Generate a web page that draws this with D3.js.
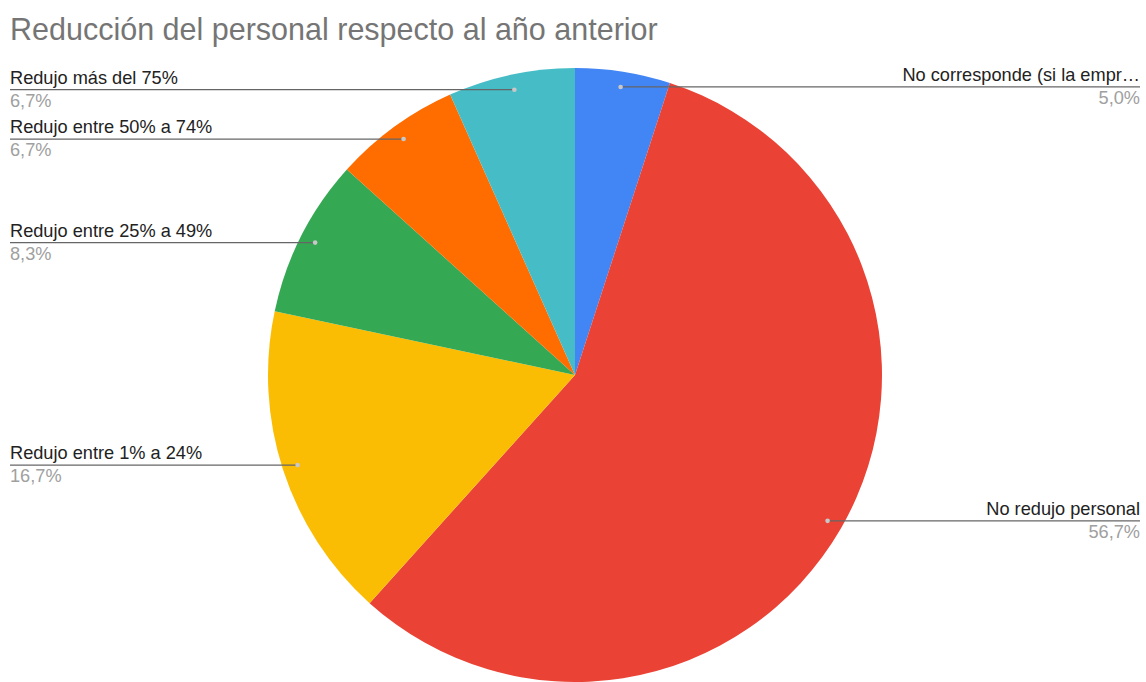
<!DOCTYPE html>
<html>
<head>
<meta charset="utf-8">
<script src="https://cdn.jsdelivr.net/npm/d3@7"></script>
<style>
  html, body { margin: 0; padding: 0; background: #fff; }
  svg { display: block; font-family: "Liberation Sans", Arial, sans-serif; }
</style>
</head>
<body>
<svg id="chart" width="1146" height="682"></svg>
<script>
// Survey answers (number of companies) for each category, clockwise from 12 o'clock
const categories = [
  "No corresponde (si la empr…",
  "No redujo personal",
  "Redujo entre 1% a 24%",
  "Redujo entre 25% a 49%",
  "Redujo entre 50% a 74%",
  "Redujo más del 75%"
];
const counts = [3, 34, 10, 5, 4, 4];
const colors = ["#4285f4", "#ea4335", "#fbbc04", "#34a853", "#ff6d01", "#46bdc6"];
const title = "Reducción del personal respecto al año anterior";

const W = 1146, H = 682;
const cx = 575, cy = 375, R = 307;

const svg = d3.select("#chart");
const total = d3.sum(counts);
const fmt = v => (v / total * 100).toFixed(1).replace(".", ",") + "%";

svg.append("text")
  .attr("x", 10).attr("y", 40)
  .attr("font-size", 30.5)
  .attr("fill", "#757575")
  .text(title);

const data = categories.map((c, i) => ({ name: c, value: counts[i], color: colors[i] }));
const pie = d3.pie().value(d => d.value).sort(null);
const arcs = pie(data);
const arc = d3.arc().innerRadius(0).outerRadius(R);

const g = svg.append("g").attr("transform", `translate(${cx},${cy})`);
g.selectAll("path.slice")
  .data(arcs)
  .join("path")
  .attr("class", "slice")
  .attr("d", arc)
  .attr("fill", d => d.data.color);

// Leader lines: horizontal from a dot inside each slice to its label at the edge
const dotR = R * 0.95;
const labels = svg.append("g");
arcs.forEach(a => {
  const mid = (a.startAngle + a.endAngle) / 2;
  const px = cx + dotR * Math.sin(mid);
  const py = cy - dotR * Math.cos(mid);
  const right = Math.sin(mid) > 0;
  const edge = right ? 1140 : 10;

  labels.append("line")
    .attr("x1", px).attr("y1", py)
    .attr("x2", edge).attr("y2", py)
    .attr("stroke", "#666")
    .attr("stroke-width", 1.2);
  labels.append("circle")
    .attr("cx", px).attr("cy", py).attr("r", 2.3)
    .attr("fill", "#c8c8c8");

  labels.append("text")
    .attr("x", edge).attr("y", py - 6)
    .attr("text-anchor", right ? "end" : "start")
    .attr("font-size", 18.2)
    .attr("fill", "#222")
    .text(a.data.name);
  labels.append("text")
    .attr("x", edge).attr("y", py + 17)
    .attr("text-anchor", right ? "end" : "start")
    .attr("font-size", 18.2)
    .attr("fill", "#a0a0a0")
    .text(fmt(a.data.value));
});
</script>
</body>
</html>
